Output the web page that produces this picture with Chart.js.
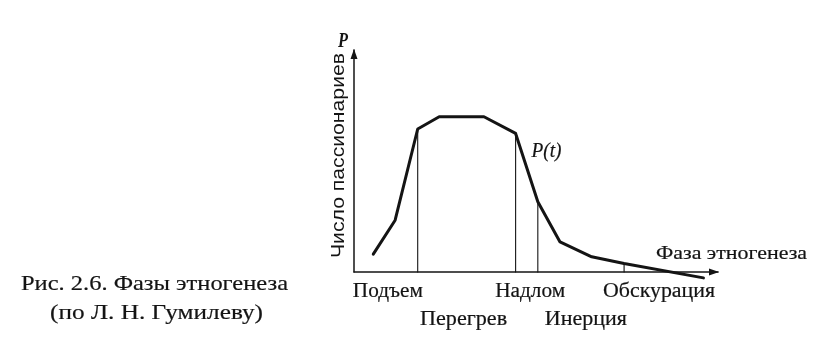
<!DOCTYPE html>
<html>
<head>
<meta charset="utf-8">
<script src="https://cdn.jsdelivr.net/npm/chart.js@4"></script>
<style>
  html, body { margin: 0; padding: 0; background: #ffffff; }
  #wrap { width: 832px; height: 344px; position: relative; }
</style>
</head>
<body>
<div id="wrap"><canvas id="c" width="832" height="344"></canvas></div>
<script>
// ---- data (abstract units) ----
const curveX = [5.3, 11.3, 17.5, 23.4, 35.7, 44.4, 50.5, 56.6, 65.3, 74.2, 96.0];
const curveY = [8.0, 23.3, 64.4, 69.9, 69.9, 62.4, 31.6, 13.5, 6.8, 3.8, -2.7];
const phaseLineX = [17.5, 44.4, 50.5, 74.2];
const phaseLineTop = [64.4, 62.4, 31.6, 3.8];
const phaseLabels = ['Подъем', 'Перегрев', 'Надлом', 'Инерция', 'Обскурация'];
const phaseLabelX = [9.3, 30.1, 48.4, 63.7, 83.8];
const axisMaxX = 100;
const axisMaxY = 100;

const INK = '#141414';

const datasets = [];
datasets.push({
  data: curveX.map((x, i) => ({ x, y: curveY[i] })),
  borderColor: INK, borderWidth: 3, pointRadius: 0, tension: 0, showLine: true
});
phaseLineX.forEach((x, i) => {
  datasets.push({
    data: [{ x, y: 0 }, { x, y: phaseLineTop[i] }],
    borderColor: INK, borderWidth: 1.1, pointRadius: 0, showLine: true
  });
});
// axes
datasets.push({ data: [{ x: 0, y: 0 }, { x: axisMaxX, y: 0 }], borderColor: INK, borderWidth: 1.5, pointRadius: 0, showLine: true });
datasets.push({ data: [{ x: 0, y: 0 }, { x: 0, y: axisMaxY }], borderColor: INK, borderWidth: 1.5, pointRadius: 0, showLine: true });

function fitText(ctx, str, cx, by, font, w, stroke) {
  ctx.save();
  ctx.font = font;
  const m = ctx.measureText(str).width;
  ctx.translate(cx, by);
  ctx.scale(w / m, 1);
  ctx.textAlign = 'center';
  ctx.textBaseline = 'alphabetic';
  ctx.fillText(str, 0, 0);
  if (stroke) {
    ctx.lineWidth = stroke;
    ctx.strokeStyle = INK;
    ctx.strokeText(str, 0, 0);
  }
  ctx.restore();
}

const decor = {
  id: 'decor',
  afterDatasetsDraw(chart) {
    const ctx = chart.ctx;
    const xs = chart.scales.x, ys = chart.scales.y;
    ctx.save();
    ctx.fillStyle = INK;
    // arrowheads
    const x0 = xs.getPixelForValue(0), y0 = ys.getPixelForValue(0);
    const xe = xs.getPixelForValue(axisMaxX), ye = ys.getPixelForValue(axisMaxY);
    ctx.beginPath();
    ctx.moveTo(xe + 1, y0); ctx.lineTo(xe - 9, y0 - 3.5); ctx.lineTo(xe - 9, y0 + 3.5); ctx.closePath(); ctx.fill();
    ctx.beginPath();
    ctx.moveTo(x0, ye - 1); ctx.lineTo(x0 - 3.5, ye + 9); ctx.lineTo(x0 + 3.5, ye + 9); ctx.closePath(); ctx.fill();

    const serif = '"Liberation Serif", "Times New Roman", serif';
    // phase labels
    const rowY = [y0 + 25, y0 + 53];
    const widths = [70, 87, 70, 82, 112];
    phaseLabels.forEach((lab, i) => {
      fitText(ctx, lab, xs.getPixelForValue(phaseLabelX[i]), rowY[i % 2], '20px ' + serif, widths[i], 0.2);
    });
    // axis titles
    fitText(ctx, 'Фаза этногенеза', 731.5, 259, '19px ' + serif, 151, 0.2);
    fitText(ctx, 'P', 343, 46.5, 'italic bold 20px ' + serif, 10, 0);
    fitText(ctx, 'P(t)', 546.5, 157, 'italic 20px ' + serif, 30, 0.2);
    ctx.save();
    ctx.translate(344, 155.5);
    ctx.rotate(-Math.PI / 2);
    fitText(ctx, 'Число пассионариев', 0, 0, '19px "Liberation Sans", Arial, sans-serif', 205, 0);
    ctx.restore();
    // caption
    fitText(ctx, 'Рис. 2.6. Фазы этногенеза', 154.5, 289.5, '22px ' + serif, 267, 0.2);
    fitText(ctx, '(по Л. Н. Гумилеву)', 156.5, 318.5, '22px ' + serif, 213, 0.2);
    ctx.restore();
  }
};

new Chart(document.getElementById('c'), {
  type: 'scatter',
  data: { datasets },
  options: {
    responsive: false,
    animation: false,
    devicePixelRatio: 1,
    layout: { padding: { left: 354, right: 114, top: 50, bottom: 61 } },
    plugins: { legend: { display: false }, tooltip: { enabled: false }, title: { display: false } },
    elements: { line: { borderCapStyle: 'round', borderJoinStyle: 'round' } },
    datasets: { scatter: { clip: false } },
    scales: {
      x: { type: 'linear', display: false, min: 0, max: axisMaxX },
      y: { type: 'linear', display: false, min: -5, max: axisMaxY }
    }
  },
  plugins: [decor]
});
</script>
</body>
</html>
